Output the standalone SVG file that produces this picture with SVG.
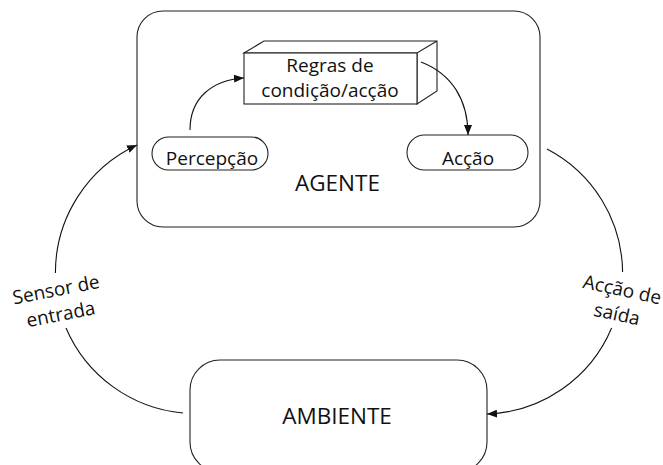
<svg xmlns="http://www.w3.org/2000/svg" width="663" height="465" viewBox="0 0 663 465">
<style>
.box{fill:#fff;stroke:#222;stroke-width:1.1}
.t{font-family:"Open Sans","DejaVu Sans",sans-serif;fill:#111;text-anchor:middle}
.s{font-size:19px}
.b{font-size:22.5px}
.c{fill:none;stroke:#111;stroke-width:1.1}
</style>
<defs>
<marker id="ah" viewBox="0 0 10 8" refX="10" refY="4" markerWidth="10" markerHeight="8" markerUnits="userSpaceOnUse" orient="auto">
<path d="M0,0 L10,4 L0,8 Z" fill="#111"/>
</marker>
</defs>
<rect width="663" height="465" fill="#fff"/>
<g id="agente">
<rect class="box" x="137" y="11" width="403" height="216" rx="26"/>
<text class="t b" x="337.5" y="191">AGENTE</text>
</g>
<g id="regras">
<path class="box" d="M244,53 L264,41 L437,41 L437,91 L417,104 L417,53 Z M244,53 L417,53 L437,41"/>
<rect class="box" x="244" y="53" width="173" height="51"/>
<text class="t s" x="330" y="72">Regras de</text>
<text class="t s" x="330" y="97">condição/acção</text>
</g>
<g id="percepcao">
<rect class="box" x="152" y="137" width="116" height="33" rx="16.5"/>
<text class="t s" x="212" y="165">Percepção</text>
</g>
<g id="accao">
<rect class="box" x="407" y="135" width="121" height="35" rx="17.5"/>
<text class="t s" x="468" y="165">Acção</text>
</g>
<g id="ambiente">
<rect class="box" x="190" y="360" width="297" height="112" rx="30"/>
<text class="t b" x="337" y="424">AMBIENTE</text>
</g>
<g id="connectors">
<path class="c" d="M190,130 C190,98 212,80 244,78" marker-end="url(#ah)"/>
<path class="c" d="M421,62 C452,74 468,100 468,135" stroke-width="0.9" marker-end="url(#ah)"/>
<path class="c" d="M66,328 A141,141 0 0 0 183,413"/>
<path class="c" d="M55.4,273 A141,141 0 0 1 137,145" marker-end="url(#ah)"/>
<path class="c" d="M547,149 A140.5,140.5 0 0 1 622.6,272"/>
<path class="c" d="M611.6,328 A140.5,140.5 0 0 1 487,414" marker-end="url(#ah)"/>
</g>
<g id="labels">
<g transform="rotate(-11 58 300)">
<text class="t s" x="58" y="296">Sensor de</text>
<text class="t s" x="58" y="321">entrada</text>
</g>
<g transform="rotate(12 620 300)">
<text class="t s" x="620" y="296">Acção de</text>
<text class="t s" x="620" y="321">saída</text>
</g>
</g>
</svg>
